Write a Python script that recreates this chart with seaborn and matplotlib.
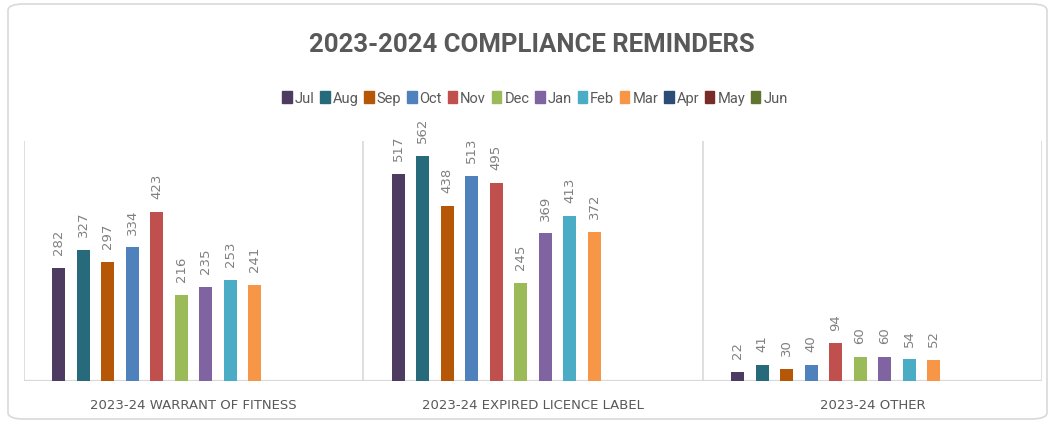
import matplotlib
matplotlib.use("Agg")
import matplotlib.pyplot as plt
import matplotlib.patches as mpatches
import pandas as pd
import seaborn as sns

# ---- data ----
MONTHS = ["Jul", "Aug", "Sep", "Oct", "Nov", "Dec", "Jan", "Feb", "Mar", "Apr", "May", "Jun"]
CATEGORIES = ["2023-24 WARRANT OF FITNESS", "2023-24 EXPIRED LICENCE LABEL", "2023-24 OTHER"]
WARRANT_OF_FITNESS = [282, 327, 297, 334, 423, 216, 235, 253, 241]
EXPIRED_LICENCE = [517, 562, 438, 513, 495, 245, 369, 413, 372]
OTHER = [22, 41, 30, 40, 94, 60, 60, 54, 52]

COLOURS = ["#4D3B62", "#276A7C", "#B65708", "#4F81BD", "#C0504D", "#9BBB59",
           "#8064A2", "#4BACC6", "#F79646", "#2C4D75", "#772C2A", "#5F7530"]

rows = []
for cat, vals in zip(CATEGORIES, [WARRANT_OF_FITNESS, EXPIRED_LICENCE, OTHER]):
    for month, v in zip(MONTHS, vals):
        rows.append({"category": cat, "month": month, "count": v})
df = pd.DataFrame(rows)

sns.set_style("white")
plt.rcParams["font.family"] = ["DejaVu Sans"]

fig = plt.figure(figsize=(10.49, 4.27), dpi=100)
ax = fig.add_axes([24 / 1049, 1 - 382 / 427, 1018 / 1049, 240 / 427])

palette = dict(zip(MONTHS, COLOURS))
sns.barplot(data=df, x="category", y="count", hue="month", order=CATEGORIES,
            hue_order=MONTHS, palette=palette, saturation=1, width=0.867,
            gap=0.47, linewidth=0, legend=False, ax=ax)

for cont in ax.containers:
    labels = [f"{b.get_height():.0f}" for b in cont]
    ax.bar_label(cont, labels=labels, rotation=90, padding=10,
                 color="#808080", fontsize=9.5)

ax.set_ylim(0, 600)
ax.set_xlim(-0.5, 2.5)
ax.set_yticks([])
ax.set_ylabel("")
ax.set_xlabel("")
for s in ax.spines.values():
    s.set_visible(False)
ax.axhline(0, color="#D9D9D9", lw=1.6, zorder=0)
for xb in [-0.5, 0.5, 1.5, 2.5]:
    ax.axvline(xb, color="#D9D9D9", lw=1.2, zorder=0)
ax.tick_params(axis="x", length=0, pad=12)
ax.set_xticks(range(len(CATEGORIES)))
ax.set_xticklabels(CATEGORIES, fontsize=9.5, color="#595959")

# outer rounded frame
frame = mpatches.FancyBboxPatch((8 / 1049, 7 / 427), 1039 / 1049, 415 / 427,
                                boxstyle="round,pad=0,rounding_size=0.015",
                                transform=fig.transFigure, fill=False,
                                edgecolor="#D9D9D9", lw=1.2)
fig.patches.append(frame)

fig.text(0.507, 1 - 45 / 427, "2023-2024 COMPLIANCE REMINDERS", ha="center",
         va="center", fontsize=18.5, fontweight="bold", color="#595959",
         family=["Roboto", "DejaVu Sans"])

handles = [mpatches.Patch(color=c, label=m) for m, c in zip(MONTHS, COLOURS)]
fig.legend(handles=handles, loc="center", bbox_to_anchor=(0.51, 1 - 99 / 427),
           ncol=12, frameon=False, handlelength=0.65, handleheight=0.85,
           handletextpad=0.2, columnspacing=0.4,
           prop={"family": ["Roboto", "DejaVu Sans"], "size": 10.5},
           labelcolor="#595959")

fig.savefig("out.png", dpi=100)
